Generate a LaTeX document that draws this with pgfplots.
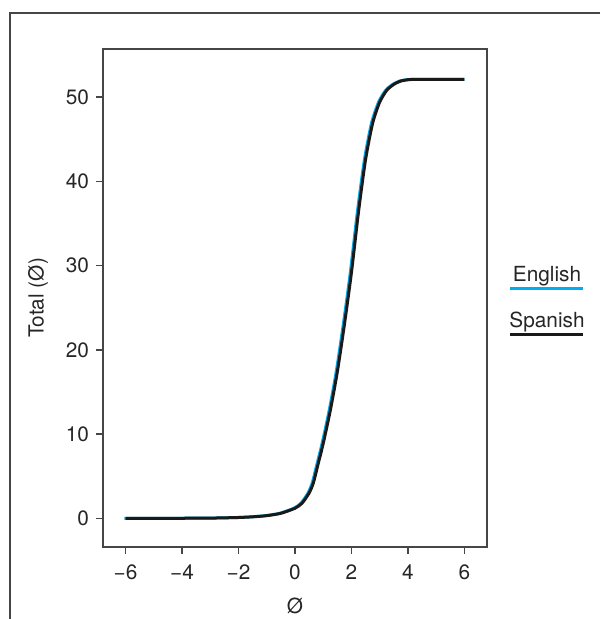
\documentclass[border=0pt]{standalone}
\usepackage{pgfplots}
\pgfplotsset{compat=1.18}
\usepackage{fontspec}
\setmainfont{TeX Gyre Heros}
\definecolor{engblue}{RGB}{0,174,239}
\definecolor{axgray}{RGB}{70,70,70}
\newcommand{\lbl}{\fontsize{10.4}{12}\selectfont}

\begin{document}
\begin{tikzpicture}[x=0.5pt,y=0.5pt]
\useasboundingbox (0,0) rectangle (600,619);
\draw[axgray, line width=0.7pt] (600,606) -- (10,606) -- (10,0);
\begin{axis}[
  at={(51.5pt,36pt)}, anchor=south west,
  scale only axis, width=192pt, height=249pt,
  xmin=-6.8, xmax=6.8, ymin=-3.4, ymax=55.7,
  xtick={-6,-4,-2,0,2,4,6},
  xticklabels={−6,−4,−2,0,2,4,6},
  ytick={0,10,20,30,40,50},
  yticklabels={0,10,20,30,40,50},
  xtick pos=bottom, ytick pos=left,
  tick align=outside, major tick length=3.5pt,
  axis line style={axgray, line width=0.7pt},
  tick style={axgray, line width=0.7pt},
  tick label style={font=\lbl, text=black!85},
  xticklabel style={yshift=-2pt},
  label style={font=\lbl, text=black!85},
  xlabel style={yshift=-2pt},
  ylabel style={yshift=2pt},
  xlabel={Ø}, ylabel={Total (Ø)},
  clip=false,
]
% English
\addplot[engblue, line width=1.5pt, smooth, tension=0.4] coordinates {
(-6.04,0.0)(-5.04,0.0)(-4.04,0.01)(-3.04,0.03)(-2.54,0.06)(-2.04,0.1)(-1.54,0.18)(-1.04,0.32)(-0.54,0.6)(-0.04,1.2)(0.21,1.8)(0.46,3.0)(0.61,4.2)(0.76,6.2)(0.96,8.9)(1.21,12.8)(1.46,17.4)(1.71,23.0)(1.96,29.2)(2.21,36.4)(2.46,42.6)(2.71,46.9)(2.96,49.4)(3.21,50.8)(3.46,51.5)(3.71,51.9)(3.96,52.05)(4.2,52.1)(4.5,52.1)(5,52.1)(6,52.1)
};
% Spanish
\addplot[black!90, line width=1.5pt, smooth, tension=0.4] coordinates {
(-6,0.0)(-5,0.0)(-4,0.01)(-3,0.03)(-2.5,0.06)(-2,0.1)(-1.5,0.18)(-1,0.32)(-0.5,0.6)(0,1.2)(0.25,1.8)(0.5,3.0)(0.65,4.2)(0.8,6.2)(1.0,8.9)(1.25,12.8)(1.5,17.4)(1.75,23.0)(2.0,29.2)(2.25,36.4)(2.5,42.6)(2.75,46.9)(3.0,49.4)(3.25,50.8)(3.5,51.5)(3.75,51.9)(4.0,52.05)(4.25,52.1)(4.5,52.1)(5,52.1)(6,52.1)
};
\end{axis}
% legend
\node[font=\lbl, text=black!85, anchor=base] at (547,337) {English};
\draw[engblue, line width=1.5pt] (510,330) -- (583,330);
\node[font=\lbl, text=black!85, anchor=base] at (547,291) {Spanish};
\draw[black!90, line width=1.5pt] (510,284) -- (583,284);
\end{tikzpicture}
\end{document}
